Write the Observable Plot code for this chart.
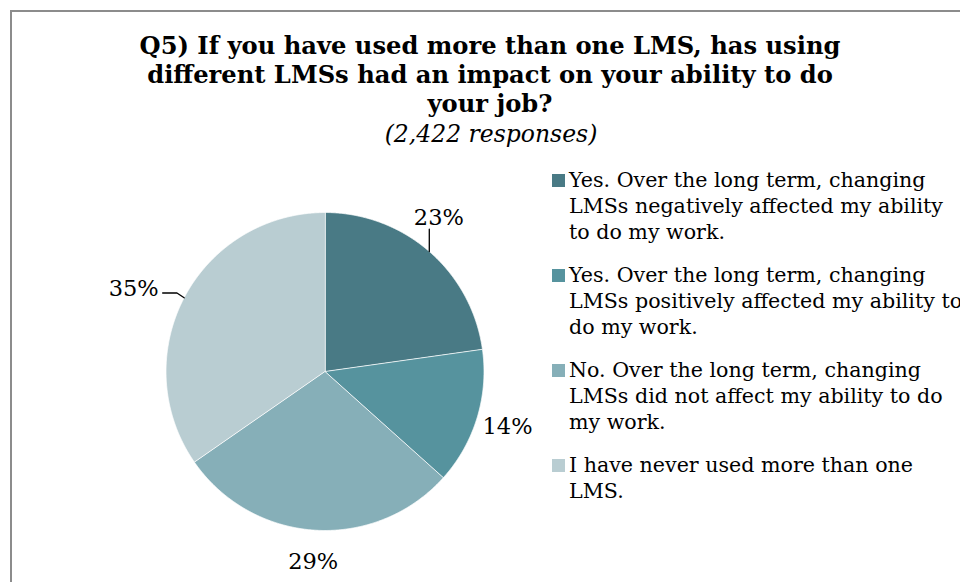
<!DOCTYPE html>
<html>
<head>
<meta charset="utf-8">
<script src="https://cdn.jsdelivr.net/npm/d3@7"></script>
<script src="https://cdn.jsdelivr.net/npm/@observablehq/plot@0.6"></script>
<style>
  html, body { margin: 0; padding: 0; background: #fff; }
  #wrap { position: relative; width: 960px; height: 582px; overflow: hidden; font-family: "DejaVu Serif", Georgia, serif; color: #000; }
  #frame { position: absolute; left: 10px; top: 10px; width: 1000px; height: 640px; border-left: 2px solid #8c8c8c; border-top: 2px solid #8c8c8c; box-sizing: border-box; }
  #title { position: absolute; left: 0; width: 980px; top: 31px; text-align: center; font-weight: bold; font-size: 24.2px; line-height: 29px; }
  #subtitle { position: absolute; left: 0; width: 982px; top: 120px; text-align: center; font-style: italic; font-size: 23.5px; line-height: 28px; }
  #chart { position: absolute; left: 0; top: 0; }
  #legend { position: absolute; left: 552px; top: 167px; }
  .item { position: relative; padding-left: 17px; font-size: 20.6px; line-height: 26px; white-space: pre; margin-bottom: 17px; }
  .sw { position: absolute; left: 0; top: 7px; width: 13px; height: 13px; }
</style>
</head>
<body>
<div id="wrap">
  <div id="frame"></div>
  <div id="title"></div>
  <div id="subtitle"></div>
  <div id="chart"></div>
  <div id="legend"></div>
</div>
<script>
const titleLines = [
  "Q5) If you have used more than one LMS, has using",
  "different LMSs had an impact on your ability to do",
  "your job?"
];
const subtitle = "(2,422 responses)";
const categories = [
  "Yes. Over the long term, changing\nLMSs negatively affected my ability\nto do my work.",
  "Yes. Over the long term, changing\nLMSs positively affected my ability to\ndo my work.",
  "No. Over the long term, changing\nLMSs did not affect my ability to do\nmy work.",
  "I have never used more than one\nLMS."
];
const values = [23, 14, 29, 35];
const valueLabels = ["23%", "14%", "29%", "35%"];
const palette = ["#497a85", "#56939e", "#86afb8", "#b9cdd2"];

document.getElementById("title").innerHTML = titleLines.join("<br>");
document.getElementById("subtitle").textContent = subtitle;

const arcs = d3.pie().sort(null).value(d => d.value)(
  categories.map((c, i) => ({cat: c, value: values[i], label: valueLabels[i]}))
);

// polygon outline of each slice
const pts = [];
for (const a of arcs) {
  const n = Math.max(4, Math.ceil((a.endAngle - a.startAngle) / 0.005));
  pts.push({cat: a.data.cat, x: 0, y: 0});
  for (let k = 0; k <= n; k++) {
    const t = a.startAngle + (a.endAngle - a.startAngle) * k / n;
    pts.push({cat: a.data.cat, x: Math.sin(t), y: Math.cos(t)});
  }
}

// label placement: outside the slice at its mid angle; two labels pulled
// aside with leader lines (one vertical, one elbowed), like the original
const labs = [], leaders = [];
for (const a of arcs) {
  const m = (a.startAngle + a.endAngle) / 2;
  const ex = Math.sin(m), ey = Math.cos(m);
  if (a.index === 0) {
    leaders.push({x: ex, y: ey}, {x: ex, y: ey + 0.14}, {x: NaN, y: NaN});
    labs.push({label: a.data.label, x: ex + 0.06, y: ey + 0.21, anchor: "middle"});
  } else if (a.index === 3) {
    leaders.push({x: ex, y: ey}, {x: ex - 0.045, y: ey + 0.03}, {x: ex - 0.135, y: ey + 0.03}, {x: NaN, y: NaN});
    labs.push({label: a.data.label, x: ex - 0.16, y: ey + 0.055, anchor: "end"});
  } else {
    const r = 1.2;
    labs.push({label: a.data.label, x: r * ex, y: r * ey, anchor: "middle"});
  }
}

const cx = 324.5, cy = 371, R = 159;
const plot = Plot.plot({
  width: 960,
  height: 582,
  margin: 0,
  x: {domain: [-1, 1], range: [cx - R, cx + R], axis: null},
  y: {domain: [-1, 1], range: [cy + R, cy - R], axis: null},
  color: {domain: categories, range: palette},
  marks: [
    Plot.line(pts, {x: "x", y: "y", z: "cat", fill: "cat", stroke: "#ffffff", strokeWidth: 0.75, curve: "linear-closed"}),
    Plot.line(leaders, {x: "x", y: "y", stroke: "#000", strokeWidth: 1.3}),
    Plot.text(labs.filter(d => d.anchor === "middle"), {x: "x", y: "y", text: "label", fontSize: 22.5, fontFamily: "DejaVu Serif", fill: "#000"}),
    Plot.text(labs.filter(d => d.anchor === "end"), {x: "x", y: "y", text: "label", textAnchor: "end", fontSize: 22.5, fontFamily: "DejaVu Serif", fill: "#000"})
  ]
});
plot.style.background = "transparent";
document.getElementById("chart").appendChild(plot);

const legend = d3.select("#legend");
categories.forEach((c, i) => {
  const it = legend.append("div").attr("class", "item");
  it.append("div").attr("class", "sw").style("background", palette[i]);
  it.append("span").text(c);
});
</script>
</body>
</html>
